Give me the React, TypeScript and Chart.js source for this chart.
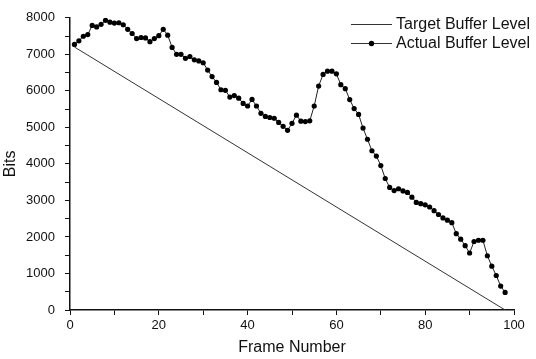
import React, { useEffect, useRef } from "react";
import { Chart, registerables } from "chart.js";

Chart.register(...registerables);

const frames: number[] = Array.from({ length: 98 }, (_, i) => i + 1);

const actualBits: number[] = [
  7270, 7370, 7495, 7540, 7790, 7750, 7820, 7930, 7880, 7855,
  7865, 7810, 7685, 7570, 7430, 7460, 7450, 7345, 7430, 7510,
  7685, 7525, 7190, 7000, 7000, 6890, 6940, 6850, 6820, 6770,
  6570, 6390, 6230, 6030, 6015, 5830, 5870, 5800, 5655, 5585,
  5765, 5585, 5385, 5300, 5270, 5250, 5135, 5030, 4920, 5110,
  5335, 5170, 5160, 5180, 5585, 6130, 6450, 6540, 6540, 6465,
  6170, 6060, 5760, 5515, 5355, 4980, 4675, 4360, 4215, 3955,
  3600, 3355, 3270, 3320, 3260, 3220, 3090, 2945, 2910, 2880,
  2820, 2720, 2615, 2520, 2460, 2390, 2090, 1940, 1760, 1560,
  1875, 1910, 1910, 1485, 1200, 945, 655, 480,
];

const targetFrames: number[] = [1, 98];
const targetBits: number[] = [7200, 0];

const seriesNames: string[] = ["Target Buffer Level", "Actual Buffer Level"];
const xTitle = "Frame Number";
const yTitle = "Bits";

const FONT = "'Liberation Sans', Arial, sans-serif";

const overlayPlugin = {
  id: "overlay",
  afterDraw(chart: any) {
    const ctx = chart.ctx as CanvasRenderingContext2D;
    const area = chart.chartArea;
    ctx.save();
    ctx.fillStyle = "#111";
    // axis titles
    ctx.font = `16px ${FONT}`;
    ctx.textAlign = "center";
    ctx.textBaseline = "middle";
    ctx.fillText(xTitle, (area.left + area.right) / 2, 348);
    ctx.save();
    ctx.translate(11, (area.top + area.bottom) / 2);
    ctx.rotate(-Math.PI / 2);
    ctx.fillText(yTitle, 0, 0);
    ctx.restore();

    // legend
    const lx0 = 351;
    const lx1 = 392;
    const rows = [24, 43];
    ctx.strokeStyle = "#333";
    ctx.lineWidth = 1;
    rows.forEach((y, i) => {
      ctx.beginPath();
      ctx.moveTo(lx0, y + 0.5);
      ctx.lineTo(lx1, y + 0.5);
      ctx.stroke();
      if (i === 1) {
        ctx.beginPath();
        ctx.arc((lx0 + lx1) / 2, y + 0.5, 2.7, 0, Math.PI * 2);
        ctx.fillStyle = "#000";
        ctx.fill();
      }
      ctx.fillStyle = "#111";
      ctx.textAlign = "left";
      ctx.textBaseline = "middle";
      ctx.font = `16px ${FONT}`;
      ctx.fillText(seriesNames[i], 396, y + 1);
    });
    ctx.restore();
  },
};

export default function App() {
  const canvasRef = useRef<HTMLCanvasElement | null>(null);

  useEffect(() => {
    document.body.style.margin = "0";
    const canvas = canvasRef.current;
    if (!canvas) return;
    const chart = new Chart(canvas, {
      type: "line",
      data: {
        datasets: [
          {
            label: seriesNames[0],
            data: targetFrames.map((f, i) => ({ x: f, y: targetBits[i] })),
            borderColor: "#333",
            borderWidth: 1,
            pointRadius: 0,
            tension: 0,
          },
          {
            label: seriesNames[1],
            data: frames.map((f, i) => ({ x: f, y: actualBits[i] })),
            borderColor: "#222",
            borderWidth: 1,
            pointRadius: 2.6,
            pointBackgroundColor: "#000",
            pointBorderColor: "#000",
            pointBorderWidth: 0,
            tension: 0,
          },
        ],
      },
      options: {
        animation: false,
        responsive: false,
        maintainAspectRatio: false,
        layout: { padding: { top: 14, right: 22, left: 0, bottom: 0 } },
        plugins: {
          legend: { display: false },
          tooltip: { enabled: false },
        },
        scales: {
          x: {
            type: "linear",
            min: 0,
            max: 100,
            border: { display: true, color: "#111", width: 1.5 },
            grid: {
              display: true,
              drawOnChartArea: false,
              drawTicks: true,
              tickLength: 5,
              color: "#111",
            },
            ticks: {
              stepSize: 10,
              autoSkip: false,
              maxRotation: 0,
              padding: 3,
              color: "#111",
              font: { family: FONT, size: 13 },
              callback: (v: any) => (Number(v) % 20 === 0 ? String(v) : ""),
            },
            afterFit: (scale: any) => {
              scale.height = 359 - 310;
            },
          },
          y: {
            type: "linear",
            min: 0,
            max: 8000,
            border: { display: true, color: "#111", width: 1.5 },
            grid: {
              display: true,
              drawOnChartArea: false,
              drawTicks: true,
              tickLength: 5,
              color: "#111",
            },
            ticks: {
              stepSize: 500,
              autoSkip: false,
              padding: 10,
              color: "#111",
              font: { family: FONT, size: 13 },
              callback: (v: any) => (Number(v) % 1000 === 0 ? String(v) : ""),
            },
            afterFit: (scale: any) => {
              scale.width = 70;
            },
          },
        },
      },
      plugins: [overlayPlugin],
    });
    return () => chart.destroy();
  }, []);

  return (
    <div style={{ width: 536, height: 359, background: "#fff" }}>
      <canvas ref={canvasRef} width={536} height={359} style={{ display: "block" }} />
    </div>
  );
}
